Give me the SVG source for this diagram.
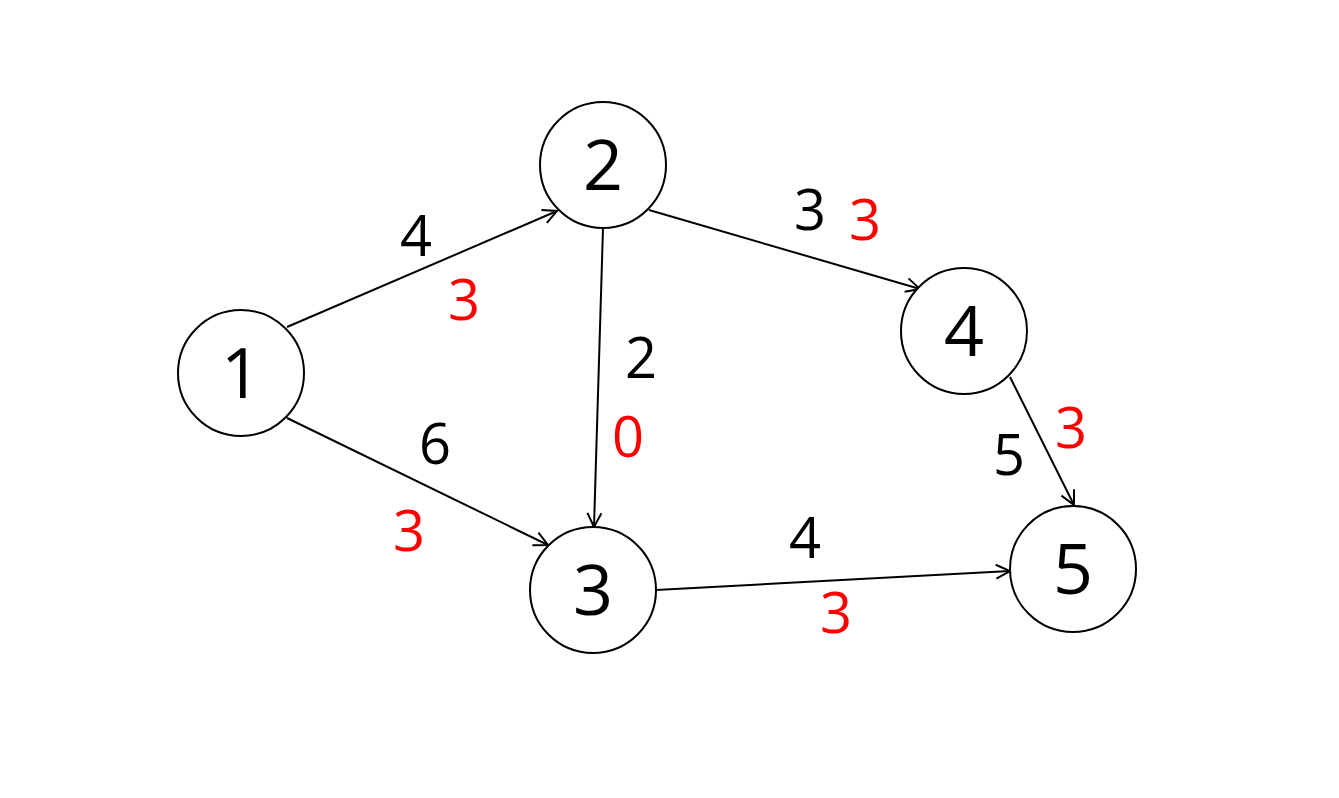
<svg xmlns="http://www.w3.org/2000/svg" width="1339" height="798" viewBox="0 0 1339 798">
<style>
.node circle{fill:#fff;stroke:#000;stroke-width:2}
.node text{font-family:"Open Sans","Noto Sans",sans-serif;font-size:70px;text-anchor:middle;fill:#000}
.edges line{stroke:#000;stroke-width:2;marker-end:url(#arr)}
.lbl{font-family:"Open Sans","Noto Sans",sans-serif;font-size:56px;text-anchor:middle}
.k{fill:#000}.r{fill:#ff0000}
</style>
<defs>
<marker id="arr" viewBox="0 0 20 20" refX="18" refY="10" markerWidth="20" markerHeight="20" markerUnits="userSpaceOnUse" orient="auto">
<path d="M4,3 L18,10 L4,17" fill="none" stroke="#000" stroke-width="2"/>
</marker>
</defs>
<rect width="1339" height="798" fill="#fff"/>
<g class="edges">
<line x1="287" y1="327" x2="557" y2="211"/>
<line x1="287" y1="418" x2="548" y2="545"/>
<line x1="603" y1="228" x2="594" y2="527"/>
<line x1="649" y1="210" x2="920" y2="289"/>
<line x1="656" y1="590" x2="1010" y2="571"/>
<line x1="1010" y1="377" x2="1074" y2="505"/>
</g>
<g id="node1" class="node"><circle cx="241" cy="373" r="63"/><text x="241" y="398">1</text></g>
<g id="node2" class="node"><circle cx="603" cy="165" r="63"/><text x="603" y="190">2</text></g>
<g id="node3" class="node"><circle cx="593" cy="590" r="63"/><text x="593" y="615">3</text></g>
<g id="node4" class="node"><circle cx="964" cy="331" r="63"/><text x="964" y="356">4</text></g>
<g id="node5" class="node"><circle cx="1073" cy="569" r="63"/><text x="1073" y="594">5</text></g>
<g id="labels">
<text class="lbl k" x="416" y="256">4</text>
<text class="lbl r" x="464" y="320">3</text>
<text class="lbl k" x="435" y="464">6</text>
<text class="lbl r" x="409" y="551">3</text>
<text class="lbl k" x="641" y="378">2</text>
<text class="lbl r" x="628" y="457">0</text>
<text class="lbl k" x="810" y="230">3</text>
<text class="lbl r" x="865" y="240">3</text>
<text class="lbl k" x="1009" y="475">5</text>
<text class="lbl r" x="1071" y="448">3</text>
<text class="lbl k" x="805" y="558">4</text>
<text class="lbl r" x="836" y="633">3</text>
</g>
</svg>
